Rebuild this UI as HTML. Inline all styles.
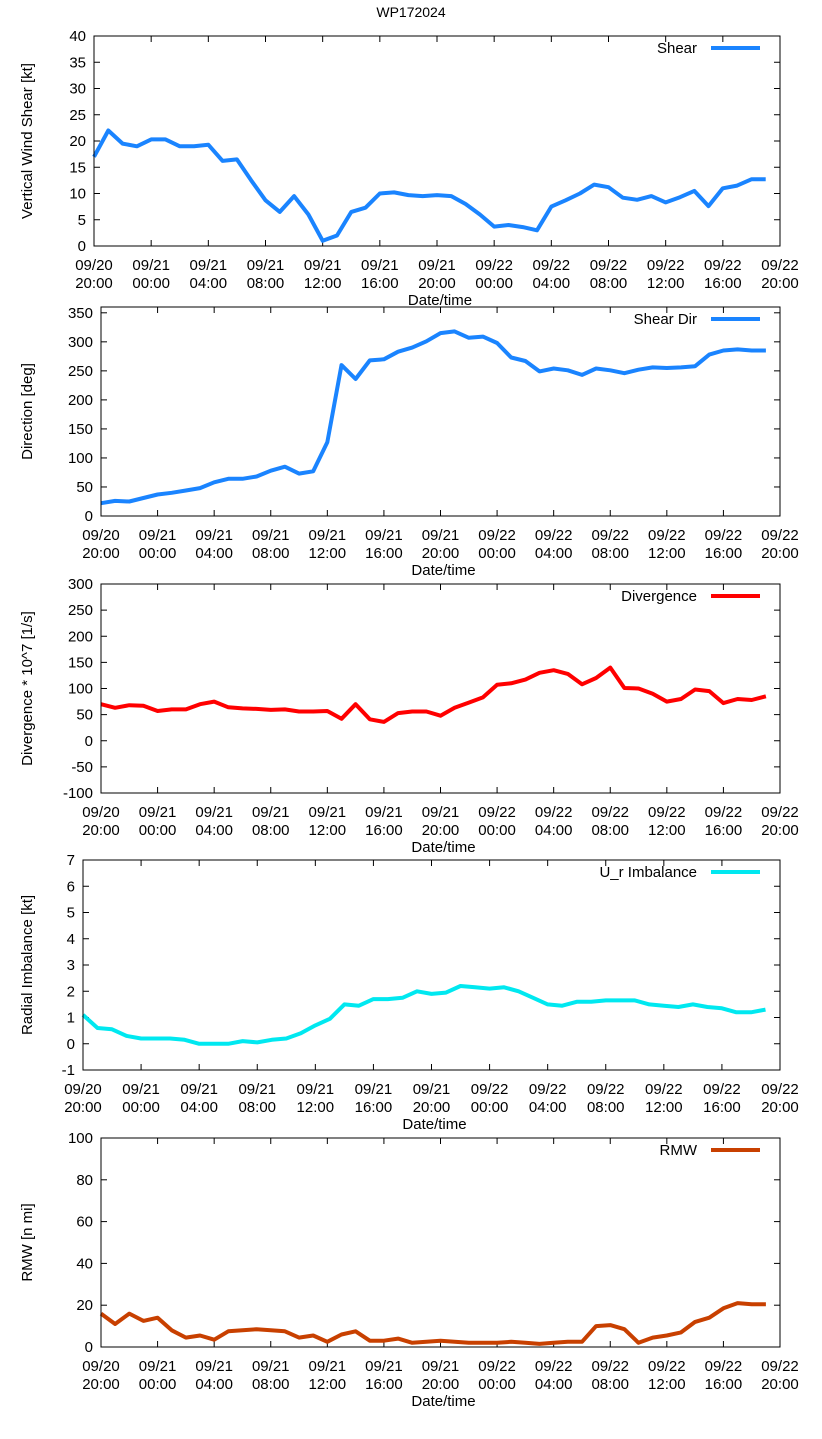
<!DOCTYPE html>
<html><head><meta charset="utf-8"><style>
body{margin:0;background:#fff}
svg{display:block;font-family:"Liberation Sans","DejaVu Sans",sans-serif}
</style></head><body>
<svg id="chart" width="822" height="1439" viewBox="0 0 822 1439">
<text x="411" y="17" text-anchor="middle" font-size="14">WP172024</text>
</svg>
<script>
const xTickTop = ["09/20","09/21","09/21","09/21","09/21","09/21","09/21","09/22","09/22","09/22","09/22","09/22","09/22"];
const xTickBottom = ["20:00","00:00","04:00","08:00","12:00","16:00","20:00","00:00","04:00","08:00","12:00","16:00","20:00"];
const hours = Array.from({length:48},(_,i)=>i);
const shear = [17,22,19.5,19,20.3,20.3,19,19,19.3,16.2,16.5,12.5,8.7,6.5,9.5,6,1,2,6.5,7.3,10,10.2,9.7,9.5,9.7,9.5,8,6,3.7,4,3.6,3,7.5,8.7,10,11.7,11.2,9.2,8.8,9.5,8.3,9.3,10.5,7.6,11,11.5,12.7,12.7];
const shearDir = [22,26,25,31,37,40,44,48,58,64,64,68,78,85,73,77,127,260,236,268,270,283,290,301,315,318,307,309,298,273,267,249,254,251,243,254,251,246,252,256,255,256,258,278,285,287,285,285];
const divergence = [70,63,68,67,57,60,60,70,75,64,62,61,59,60,56,56,57,42,70,41,36,53,56,56,48,63,73,83,107,110,117,130,135,128,108,120,140,101,100,90,75,80,98,95,72,80,78,85];
const imbalance = [1.1,0.6,0.55,0.3,0.2,0.2,0.2,0.15,0,0,0,0.1,0.05,0.15,0.2,0.4,0.7,0.95,1.5,1.45,1.7,1.7,1.75,2.0,1.9,1.95,2.2,2.15,2.1,2.15,2.0,1.75,1.5,1.45,1.6,1.6,1.65,1.65,1.65,1.5,1.45,1.4,1.5,1.4,1.35,1.2,1.2,1.3];
const rmw = [16,11,16,12.5,14,8,4.5,5.5,3.5,7.5,8,8.5,8,7.5,4.5,5.5,2.5,6,7.5,3,3,4,2,2.5,3,2.5,2,2,2,2.5,2,1.5,2,2.5,2.5,10,10.5,8.5,2,4.5,5.5,7,12,14,18.5,21,20.5,20.5];
const yTicks1 = [0,5,10,15,20,25,30,35,40];
const yTicks2 = [0,50,100,150,200,250,300,350];
const yTicks3 = [-100,-50,0,50,100,150,200,250,300];
const yTicks4 = [-1,0,1,2,3,4,5,6,7];
const yTicks5 = [0,20,40,60,80,100];

const NS="http://www.w3.org/2000/svg";
const svg=document.getElementById('chart');
function mk(tag,attrs,parent){const e=document.createElementNS(NS,tag);for(const k in attrs)e.setAttribute(k,attrs[k]);(parent||svg).appendChild(e);return e;}

const panels=[
 {name:'shear',left:94,top:36,bottom:246,ymin:0,ymax:40,ticks:yTicks1,data:shear,color:'#1a84ff',legend:'Shear',ytitle:'Vertical Wind Shear [kt]'},
 {name:'shear-direction',left:101,top:307,bottom:516,ymin:0,ymax:360,ticks:yTicks2,data:shearDir,color:'#1a84ff',legend:'Shear Dir',ytitle:'Direction [deg]'},
 {name:'divergence',left:101,top:584,bottom:793,ymin:-100,ymax:300,ticks:yTicks3,data:divergence,color:'#ff0000',legend:'Divergence',ytitle:'Divergence * 10^7 [1/s]'},
 {name:'radial-imbalance',left:83,top:860,bottom:1070,ymin:-1,ymax:7,ticks:yTicks4,data:imbalance,color:'#00e8f0',legend:'U_r Imbalance',ytitle:'Radial Imbalance [kt]'},
 {name:'rmw',left:101,top:1138,bottom:1347,ymin:0,ymax:100,ticks:yTicks5,data:rmw,color:'#c84000',legend:'RMW',ytitle:'RMW [n mi]'}
];
const right=780;
panels.forEach(p=>{
  const g=mk('g',{});
  
  
  const xs=h=>p.left+(right-p.left)*h/48;
  const ys=v=>p.bottom-(p.bottom-p.top)*(v-p.ymin)/(p.ymax-p.ymin);
  p.ticks.forEach(t=>{
    const y=ys(t);
    mk('line',{x1:p.left,x2:p.left+6,y1:y,y2:y,stroke:'#000'},g);
    mk('line',{x1:right,x2:right-6,y1:y,y2:y,stroke:'#000'},g);
    const tx=mk('text',{x:p.left-8,y:y+5,'text-anchor':'end','font-size':15},g);
    tx.textContent=t;
    
    
  });
  xTickTop.forEach((lab,i)=>{
    const x=xs(i*4);
    mk('line',{x1:x,x2:x,y1:p.bottom,y2:p.bottom-6,stroke:'#000'},g);
    mk('line',{x1:x,x2:x,y1:p.top,y2:p.top+6,stroke:'#000'},g);
    const t1=mk('text',{x:x,y:p.bottom+24,'text-anchor':'middle','font-size':15},g);
    t1.textContent=lab;
    
    
    const t2=mk('text',{x:x,y:p.bottom+42,'text-anchor':'middle','font-size':15},g);
    t2.textContent=xTickBottom[i];
    
    
  });
  const xt=mk('text',{x:(p.left+right)/2+3,y:p.bottom+59,'text-anchor':'middle','font-size':15},g);
  xt.textContent='Date/time';
  
  
  const cy=(p.top+p.bottom)/2;
  const yt=mk('text',{x:32,y:cy,'text-anchor':'middle','font-size':15,transform:`rotate(-90 32 ${cy})`},g);
  yt.textContent=p.ytitle;
  
  
  const pts=p.data.map((v,i)=>xs(hours[i]).toFixed(1)+','+ys(v).toFixed(1)).join(' ');
  const line=mk('polyline',{points:pts,fill:'none',stroke:p.color,'stroke-width':4,'stroke-linejoin':'round'},g);
  
  
  const lt=mk('text',{x:697,y:p.top+17,'text-anchor':'end','font-size':15},g);
  lt.textContent=p.legend;
  
  
  const ll=mk('line',{x1:711,x2:760,y1:p.top+12,y2:p.top+12,stroke:p.color,'stroke-width':4},g);
  
  
  const box=mk('rect',{x:p.left,y:p.top,width:right-p.left,height:p.bottom-p.top,fill:'none',stroke:'#000','stroke-width':1},g);
  
  
});
</script>
</body></html>
